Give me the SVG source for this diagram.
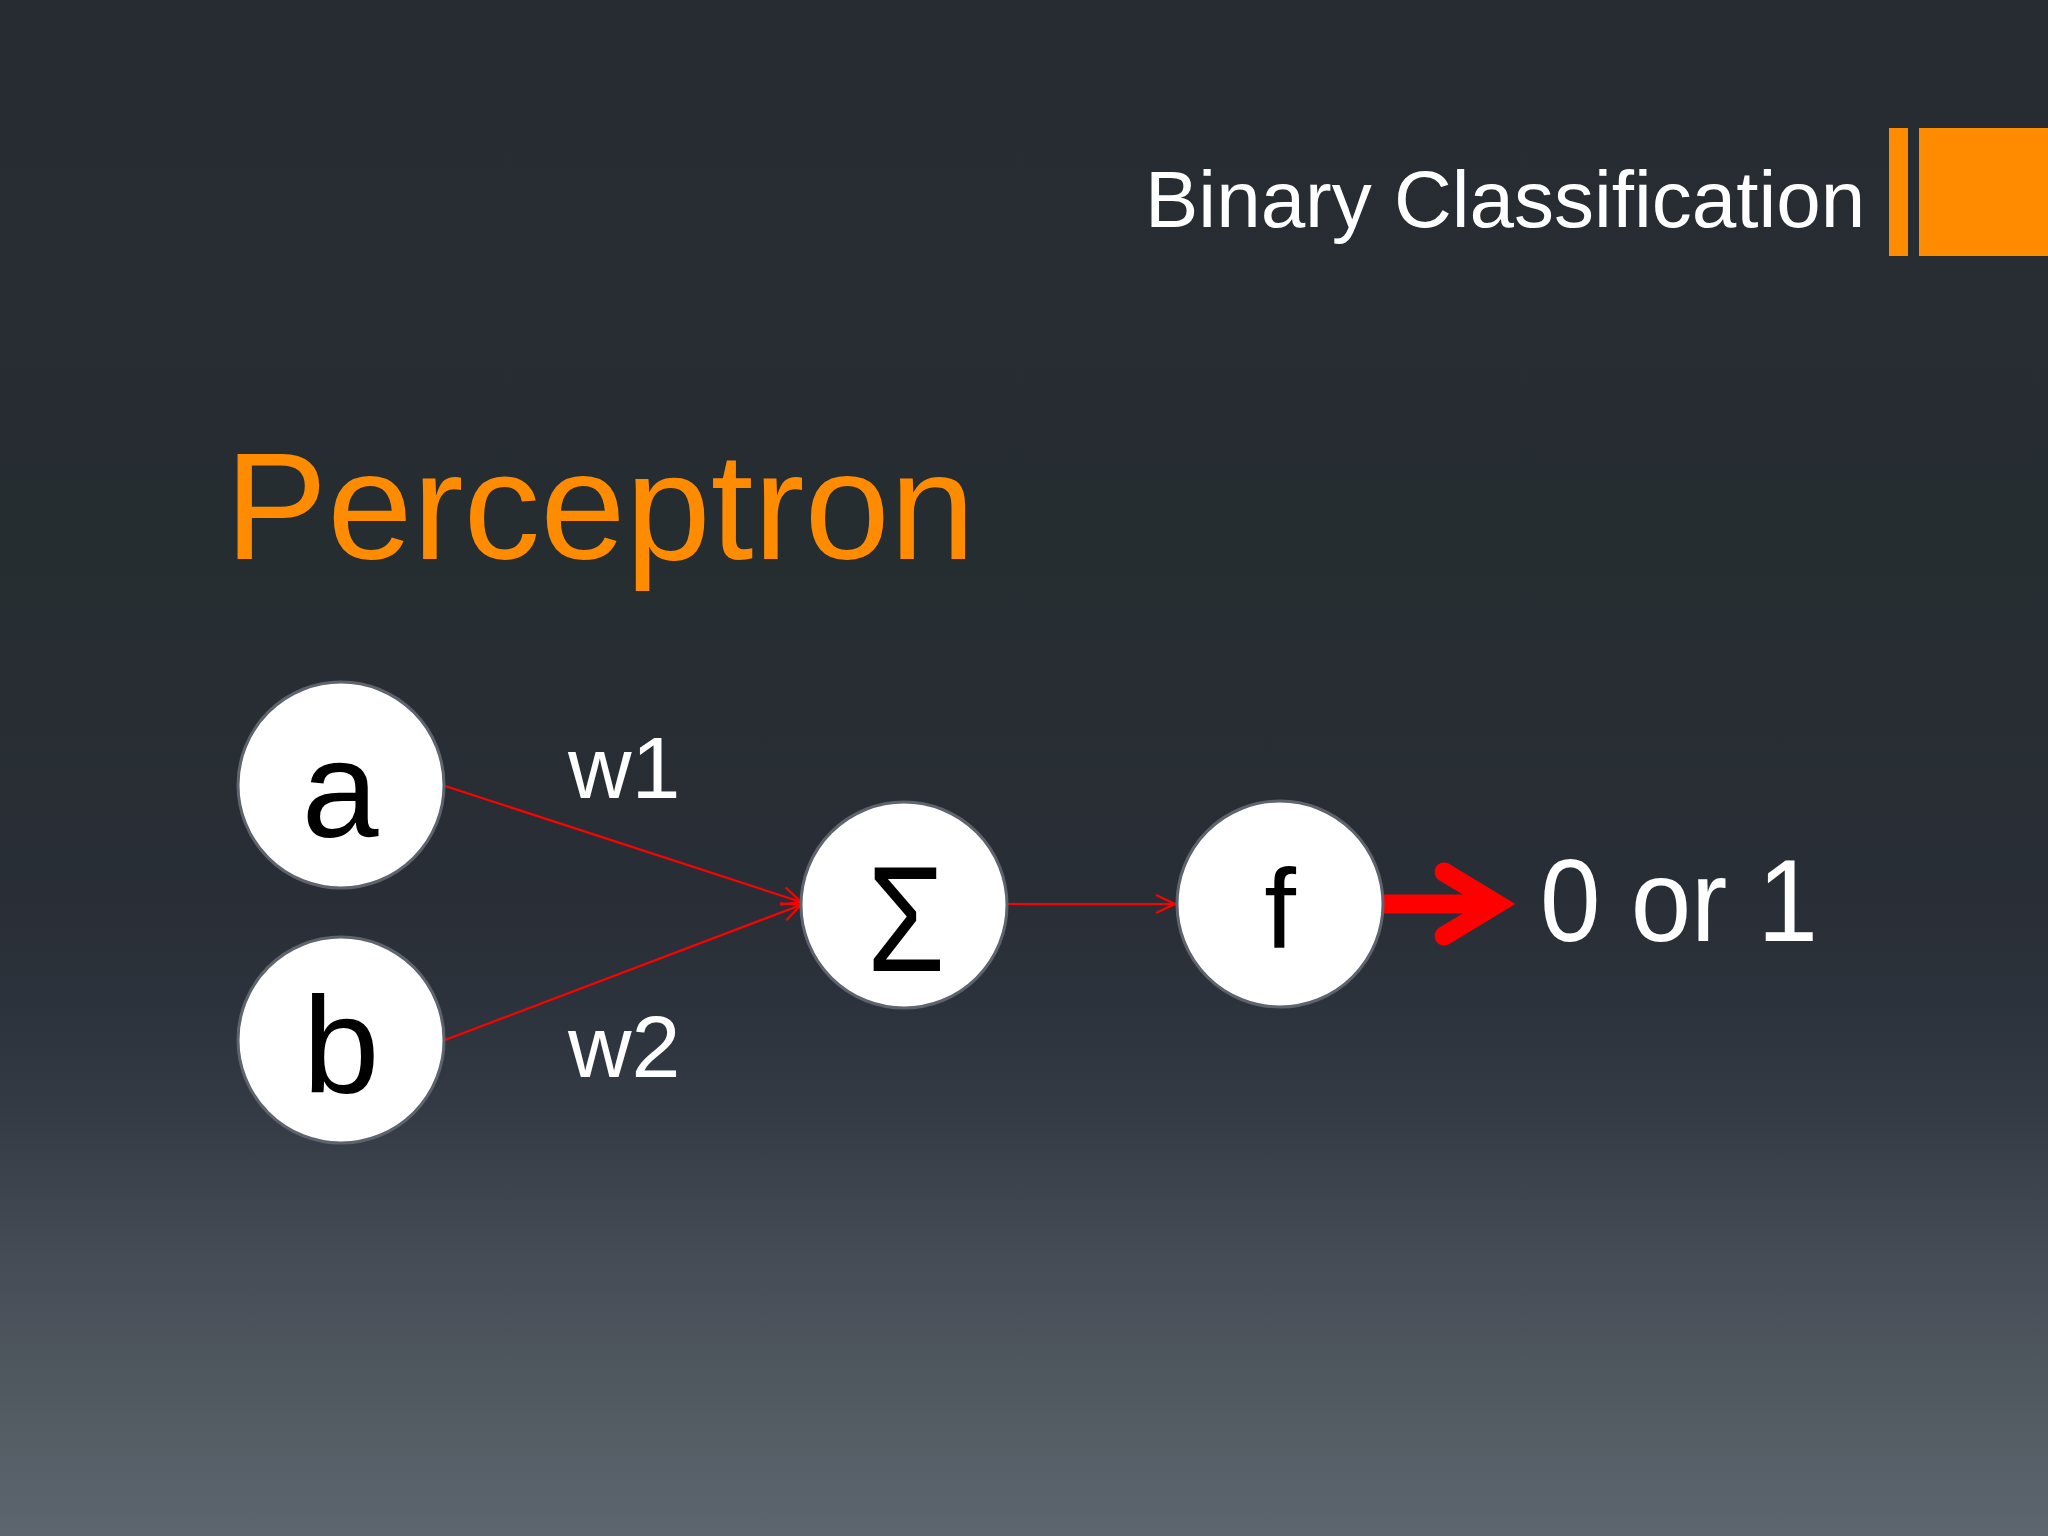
<svg xmlns="http://www.w3.org/2000/svg" width="2048" height="1536" viewBox="0 0 2048 1536">
<defs>
<linearGradient id="bg" x1="0" y1="0" x2="0" y2="1">
<stop offset="0" stop-color="#272c33"/>
<stop offset="0.35" stop-color="#262d31"/>
<stop offset="0.586" stop-color="#292e36"/>
<stop offset="0.65" stop-color="#2c323b"/>
<stop offset="0.72" stop-color="#333a44"/>
<stop offset="0.82" stop-color="#454c56"/>
<stop offset="0.9" stop-color="#50585f"/>
<stop offset="1" stop-color="#5d666f"/>
</linearGradient>
<marker id="arr" viewBox="0 0 22 22" refX="21" refY="11" markerWidth="22" markerHeight="22" markerUnits="userSpaceOnUse" orient="auto">
<path d="M2,2 L21,11 L2,20" fill="none" stroke="#ff0000" stroke-width="2.2"/>
</marker>
<style>
.node circle{fill:#ffffff;stroke:#5e636d;stroke-width:3}
.nl{font-family:"Liberation Sans",Arial,sans-serif;fill:#000000;text-anchor:middle}
.wl{font-family:"Liberation Sans",Arial,sans-serif;fill:#ffffff;font-size:88px}
.thin{stroke:#ff0000;stroke-width:2.2;fill:none;marker-end:url(#arr)}
</style>
</defs>
<rect x="0" y="0" width="2048" height="1536" fill="url(#bg)"/>
<g id="header">
<rect x="1889" y="128" width="19" height="128" fill="#ff8c00"/>
<rect x="1919" y="128" width="129" height="128" fill="#ff8c00"/>
<text x="1145" y="227" font-family="Liberation Sans, Arial, sans-serif" font-size="80" fill="#ffffff">Binary Classification</text>
</g>
<text id="title" x="225" y="559" font-family="Liberation Sans, Arial, sans-serif" font-size="152" fill="#ff8c00" textLength="750" lengthAdjust="spacingAndGlyphs">Perceptron</text>
<g id="connectors">
<line class="thin" x1="445" y1="786" x2="801" y2="902"/>
<line class="thin" x1="445" y1="1040" x2="801" y2="905"/>
<line class="thin" x1="1007" y1="904" x2="1175" y2="904"/>
<path d="M1383,904 H1490" stroke="#ff0000" stroke-width="19" fill="none"/>
<polyline points="1444,872 1497,904 1444,936" stroke="#ff0000" stroke-width="19" fill="none" stroke-linecap="round" stroke-linejoin="miter" stroke-miterlimit="10"/>
</g>
<g id="node-a" class="node">
<circle cx="341" cy="785" r="103"/>
<text class="nl" x="340" y="837" font-size="138">a</text>
</g>
<g id="node-b" class="node">
<circle cx="341" cy="1040" r="103"/>
<text class="nl" x="341" y="1093" font-size="138">b</text>
</g>
<g id="node-sum" class="node">
<circle cx="904" cy="905" r="103"/>
<text class="nl" x="906" y="971" font-size="150" textLength="78" lengthAdjust="spacingAndGlyphs">Σ</text>
</g>
<g id="node-f" class="node">
<circle cx="1280" cy="904" r="103"/>
<text class="nl" x="1280" y="948" font-size="114">f</text>
</g>
<g id="labels">
<text class="wl" x="568" y="798">w1</text>
<text class="wl" x="568" y="1077">w2</text>
<text x="1540" y="941" font-family="Liberation Sans, Arial, sans-serif" font-size="116" fill="#ffffff" textLength="278" lengthAdjust="spacingAndGlyphs">0 or 1</text>
</g>
</svg>
